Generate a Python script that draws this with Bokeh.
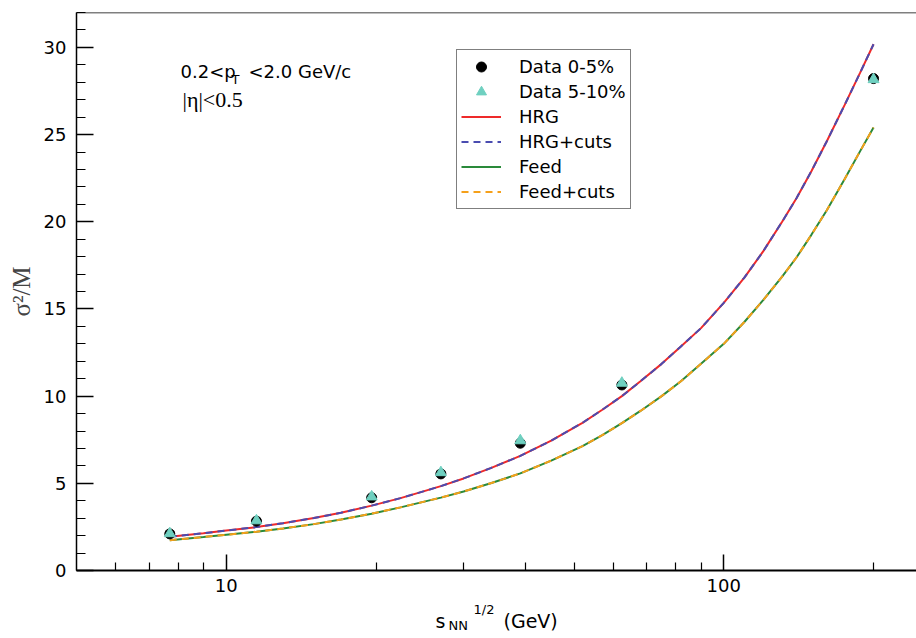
from bokeh.plotting import figure
from bokeh.layouts import column
from bokeh.models import (Range1d, FixedTicker, SingleIntervalTicker, NumeralTickFormatter,
                          Legend, LegendItem, Label, Span, ColumnDataSource)
from bokeh.core.properties import value
from bokeh.embed import file_html
from bokeh.resources import INLINE

# ---- data ----
energy = [7.7, 11.5, 19.6, 27.0, 39.0, 62.4, 200.0]
data_0_5 = [2.10, 2.83, 4.17, 5.54, 7.30, 10.64, 28.21]
data_5_10 = [2.12, 2.86, 4.23, 5.62, 7.45, 10.75, 28.16]

curve_energy = [7.7, 9.0, 10.0, 11.5, 13.0, 15.0, 17.0, 19.6, 22.4, 25.0, 27.0, 30.0, 34.0,
                39.0, 45.0, 52.0, 57.0, 62.4, 68.0, 75.0, 82.0, 90.0, 100.0, 110.0, 120.0,
                131.0, 140.0, 150.0, 161.0, 175.0, 188.0, 200.0]
hrg = [1.93, 2.14, 2.29, 2.49, 2.71, 3.01, 3.31, 3.72, 4.15, 4.55, 4.84, 5.28, 5.87,
       6.57, 7.45, 8.47, 9.22, 10.0, 10.85, 11.85, 12.85, 13.9, 15.35, 16.8, 18.3,
       20.0, 21.35, 22.9, 24.6, 26.7, 28.55, 30.18]
hrg_cuts = [1.93, 2.14, 2.29, 2.49, 2.71, 3.01, 3.31, 3.72, 4.15, 4.55, 4.84, 5.28, 5.87,
            6.57, 7.45, 8.47, 9.22, 10.0, 10.85, 11.85, 12.85, 13.9, 15.35, 16.8, 18.3,
            20.0, 21.35, 22.9, 24.6, 26.7, 28.55, 30.18]
feed = [1.74, 1.92, 2.05, 2.22, 2.41, 2.66, 2.92, 3.26, 3.62, 3.95, 4.18, 4.53, 5.0,
        5.57, 6.3, 7.13, 7.76, 8.45, 9.15, 10.0, 10.85, 11.85, 13.0, 14.25, 15.5,
        16.85, 17.95, 19.25, 20.65, 22.45, 24.05, 25.4]
feed_cuts = [1.74, 1.92, 2.05, 2.22, 2.41, 2.66, 2.92, 3.26, 3.62, 3.95, 4.18, 4.53, 5.0,
             5.57, 6.3, 7.13, 7.76, 8.45, 9.15, 10.0, 10.85, 11.85, 13.0, 14.25, 15.5,
             16.85, 17.95, 19.25, 20.65, 22.45, 24.05, 25.4]

x_major = [10, 100]
x_minor = [6, 7, 8, 9, 20, 30, 40, 50, 60, 70, 80, 90, 200]

SANS = "DejaVu Sans"
SERIF = "Liberation Serif"

p = figure(width=916, height=600, x_axis_type="log",
           x_range=Range1d(5, 244), y_range=Range1d(0, 32),
           output_backend="svg", toolbar_location=None,
           min_border_left=76, min_border_right=0, min_border_top=12, min_border_bottom=30)
p.background_fill_color = "white"
p.border_fill_color = "white"
p.outline_line_color = None
p.grid.visible = False

# x axis
xa = p.xaxis[0]
xa.ticker = FixedTicker(ticks=x_major, minor_ticks=x_minor)
xa.formatter = NumeralTickFormatter(format="0")
xa.major_tick_in = 16
xa.major_tick_out = 0
xa.minor_tick_in = 8
xa.minor_tick_out = 0
xa.axis_line_width = 2
xa.major_tick_line_width = 1.5
xa.minor_tick_line_width = 1.2
xa.major_label_text_font = SANS
xa.major_label_text_font_size = "18px"
xa.major_label_text_color = "black"
xa.major_label_standoff = 8

# y axis
ya = p.yaxis[0]
ya.ticker = SingleIntervalTicker(interval=5, num_minor_ticks=5)
ya.major_tick_in = 17
ya.major_tick_out = 0
ya.minor_tick_in = 9
ya.minor_tick_out = 0
ya.axis_line_width = 1.5
ya.major_tick_line_width = 1.5
ya.minor_tick_line_width = 1.2
ya.major_label_text_font = SANS
ya.major_label_text_font_size = "18px"
ya.major_label_text_color = "black"
ya.major_label_standoff = 10
ya.axis_label = "σ²/M"
ya.axis_label_text_font = SERIF
ya.axis_label_text_font_style = "normal"
ya.axis_label_text_font_size = "25px"
ya.axis_label_standoff = 6

# top frame line
p.add_layout(Span(location=32, dimension="width", line_color="black", line_width=1.5))

cs = ColumnDataSource(dict(x=curve_energy, hrg=hrg, hrgc=hrg_cuts, feed=feed, feedc=feed_cuts))
ds = ColumnDataSource(dict(x=energy, a=data_0_5, b=data_5_10))

r_hrg = p.line("x", "hrg", source=cs, line_color="#ee2a2a", line_width=2)
r_hrgc = p.line("x", "hrgc", source=cs, line_color="#4a4cb0", line_width=2, line_dash="7 5")
r_feed = p.line("x", "feed", source=cs, line_color="#2a8a3a", line_width=2)
r_feedc = p.line("x", "feedc", source=cs, line_color="#f5a01a", line_width=2, line_dash="7 5")
r_a = p.scatter("x", "a", source=ds, marker="circle", size=10, fill_color="black", line_color="black")
r_b = p.scatter("x", "b", source=ds, marker="triangle", size=11, fill_color="#6fd0c0", line_color="#6fd0c0")

legend = Legend(items=[
    LegendItem(label="Data 0-5%", renderers=[r_a]),
    LegendItem(label="Data 5-10%", renderers=[r_b]),
    LegendItem(label="HRG", renderers=[r_hrg]),
    LegendItem(label="HRG+cuts", renderers=[r_hrgc]),
    LegendItem(label="Feed", renderers=[r_feed]),
    LegendItem(label="Feed+cuts", renderers=[r_feedc]),
], location=(380, 361))
legend.border_line_color = "black"
legend.border_line_width = 1.5
legend.background_fill_color = "white"
legend.background_fill_alpha = 1.0
legend.label_text_font = SANS
legend.label_text_font_size = "18px"
legend.label_text_color = "black"
legend.glyph_width = 40
legend.glyph_height = 25
legend.label_height = 25
legend.label_standoff = 18
legend.spacing = 0
legend.padding = 4
legend.margin = 0
p.add_layout(legend)

def lab(x, y, text, size, font=SANS):
    p.add_layout(Label(x=x, y=y, x_units="screen", y_units="screen", text=text,
                       text_font=font, text_font_size=size, text_color="black",
                       text_baseline="alphabetic", text_align="left"))

# annotation inside the plot
lab(104, 499, "0.2<p", "18px")
lab(155, 491, "T", "13px")
lab(172, 499, "<2.0 GeV/c", "18px")
lab(106, 471, "|η|<0.5", "22px", SERIF)

# x axis title, in a strip below the main figure (its frame aligns with the main frame: 76..916 px)
t = figure(width=916, height=32, x_range=Range1d(76, 916), y_range=Range1d(0, 32),
           output_backend="svg", toolbar_location=None,
           x_axis_location=None, y_axis_location=None,
           min_border=0, min_border_left=0, min_border_right=0, min_border_top=0, min_border_bottom=0)
t.outline_line_color = None
t.grid.visible = False
t.background_fill_color = "white"
t.border_fill_color = "white"

title_parts = ["s", "NN", "1/2", "(GeV)"]
title_x = [435, 448, 473, 503]
title_y = [12, 7, 23, 12]
title_size = ["19px", "13px", "13px", "19px"]
for tx, ty, tt, sz in zip(title_x, title_y, title_parts, title_size):
    t.text(x=[tx], y=[ty], text=[tt], text_font=value(SANS), text_font_size=value(sz),
           text_color="black", text_baseline="alphabetic", text_align="left")

layout = column(p, t, spacing=0)
open("out.html", "w").write(file_html(layout, INLINE))
